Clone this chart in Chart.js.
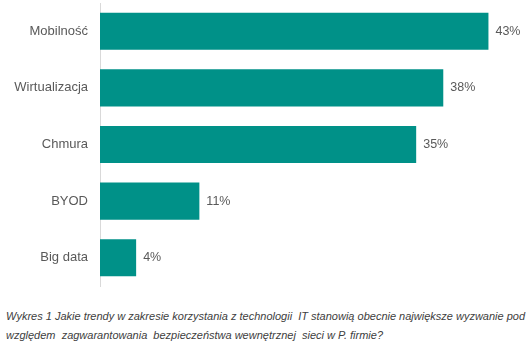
<!DOCTYPE html>
<html>
<head>
<meta charset="utf-8">
<script src="https://cdn.jsdelivr.net/npm/chart.js@4/dist/chart.umd.min.js"></script>
<style>
  html, body { margin: 0; padding: 0; background: #fff; }
  #wrap { position: relative; width: 530px; height: 290px; }
  #caption {
    position: absolute; left: 6px; top: 307px; width: 524px;
    font: italic 11px "Liberation Sans", Arial, sans-serif;
    color: #404040; line-height: 19px; white-space: pre;
  }
</style>
</head>
<body>
<div id="wrap"><canvas id="c"></canvas></div>
<div id="caption">Wykres 1 Jakie trendy w zakresie korzystania z technologii  IT stanowią obecnie największe wyzwanie pod
względem  zagwarantowania  bezpieczeństwa wewnętrznej  sieci w P. firmie?</div>
<script>
const categories = ['Mobilność', 'Wirtualizacja', 'Chmura', 'BYOD', 'Big data'];
const shares = [43, 38, 35, 11, 4];

// Percentage label to the right of each bar
const valueLabels = {
  id: 'valueLabels',
  afterDatasetsDraw(chart) {
    const ctx = chart.ctx;
    const meta = chart.getDatasetMeta(0);
    ctx.save();
    ctx.font = '12.5px "Liberation Sans", Arial, sans-serif';
    ctx.fillStyle = '#595959';
    ctx.textAlign = 'left';
    ctx.textBaseline = 'middle';
    meta.data.forEach((bar, i) => {
      ctx.fillText(shares[i] + '%', bar.x + 7, bar.y);
    });
    ctx.restore();
  }
};

new Chart(document.getElementById('c'), {
  type: 'bar',
  data: {
    labels: categories,
    datasets: [{
      data: shares,
      backgroundColor: '#009188',
      borderWidth: 0,
      categoryPercentage: 1,
      barPercentage: 0.655
    }]
  },
  options: {
    indexAxis: 'y',
    responsive: true,
    maintainAspectRatio: false,
    animation: false,
    layout: { padding: { top: 3, bottom: 4, right: 0, left: 0 } },
    plugins: { legend: { display: false }, tooltip: { enabled: false } },
    scales: {
      x: { display: false, min: 0, max: 47.6 },
      y: {
        afterFit(scale) {
          scale.width = 100;
          scale.paddingTop = 0;
          scale.paddingBottom = 0;
        },
        grid: { display: false, drawTicks: false },
        border: { display: true, color: '#d9d9d9', width: 1 },
        ticks: {
          padding: 12,
          color: '#595959',
          font: { family: '"Liberation Sans", Arial, sans-serif', size: 13 }
        }
      }
    }
  },
  plugins: [valueLabels]
});
</script>
</body>
</html>
